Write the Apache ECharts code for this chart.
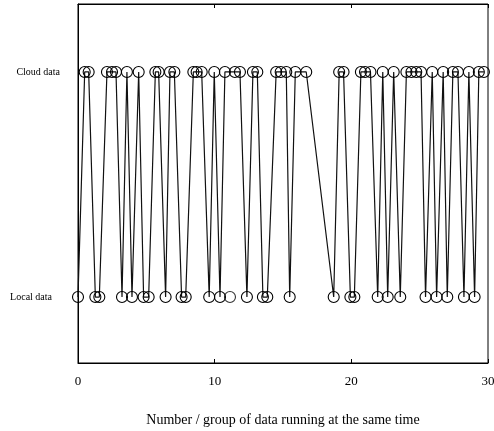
<!DOCTYPE html>
<html>
<head>
<meta charset="utf-8">
<script src="https://cdn.jsdelivr.net/npm/echarts@6/dist/echarts.min.js"></script>
<style>
  html, body { margin: 0; padding: 0; background: #fff; }
  #chart { width: 494px; height: 431px; }
</style>
</head>
<body>
<div id="chart"></div>
<script>
// x positions of the runs that ended up on each side
const cloudX = [0.49, 0.78, 2.12, 2.49, 2.78, 3.58, 4.44, 5.66, 5.9, 6.73, 7.05, 8.44, 8.68, 9.05,
  9.97, 10.75, 11.48, 11.85, 12.8, 13.12, 14.5, 14.83, 15.24, 15.9, 16.7, 19.11, 19.43, 20.7,
  21.0, 21.4, 22.3, 23.1, 24.03, 24.4, 24.75, 25.1, 25.92, 26.72, 27.43, 27.8, 28.6, 29.33, 29.7];
const localX = [0, 1.27, 1.56, 3.22, 3.95, 4.8, 5.17, 6.41, 7.58, 7.88, 9.6, 10.39, 12.36,
  13.53, 13.85, 15.49, 18.71, 19.93, 20.22, 21.93, 22.66, 23.58, 25.43, 26.24, 27.02, 28.24, 29.02];
// point drawn without a connecting line
const looseLocalX = [11.12];

const yLabels = ['Local data', 'Cloud data'];

// one line through all points, in x order
let pts = []
cloudX.forEach(x => pts.push([x, 1]))
localX.forEach(x => pts.push([x, 0]))
pts.sort((a, b) => a[0] - b[0])

const font = 'Liberation Serif, Times New Roman, serif'

const chart = echarts.init(document.getElementById('chart'), null, {renderer: 'canvas'})

chart.setOption({
  animation: false,
  grid: {
    left: 78, right: 6, top: 4, bottom: 68,
    outerBoundsMode: 'none',
    containLabel: false,
    show: true,
    borderColor: '#000',
    borderWidth: 1
  },
  xAxis: [
    {
      type: 'value',
      min: 0, max: 30, interval: 10,
      name: 'Number / group of data running at the same time',
      nameLocation: 'middle',
      nameGap: 50,
      nameTextStyle: {fontFamily: font, fontSize: 14, color: '#000'},
      axisLine: {show: true, onZero: false, lineStyle: {color: '#000'}},
      axisTick: {show: true, inside: true, length: 4, lineStyle: {color: '#000'}},
      axisLabel: {fontFamily: font, fontSize: 13, color: '#000', margin: 12},
      splitLine: {show: false}
    },
    {
      type: 'value',
      position: 'top',
      min: 0, max: 30, interval: 10,
      axisLine: {show: true, onZero: false, lineStyle: {color: '#000'}},
      axisTick: {show: true, inside: true, length: 4, lineStyle: {color: '#000'}},
      axisLabel: {show: false},
      splitLine: {show: false}
    }
  ],
  yAxis: {
    type: 'value',
    min: -0.293, max: 1.302,
    name: 'Network security',
    nameLocation: 'middle',
    nameGap: 44,
    nameTextStyle: {fontFamily: font, fontSize: 14, color: '#000'},
    axisLine: {show: true, onZero: false, lineStyle: {color: '#000'}},
    axisTick: {show: false},
    splitLine: {show: false},
    axisLabel: {
      customValues: [0, 1],
      margin: 18,
      formatter: v => v === 1 ? '{c|' + yLabels[1] + '}' : '{l|' + yLabels[0] + '}',
      rich: {
        c: {fontFamily: font, fontSize: 10, color: '#000'},
        l: {fontFamily: font, fontSize: 10, color: '#000', padding: [0, 8, 0, 0]}
      }
    }
  },
  series: [
    {
      type: 'line',
      data: pts,
      symbol: 'circle',
      symbolSize: 11,
      showAllSymbol: true,
      lineStyle: {color: '#111', width: 1.2},
      itemStyle: {color: 'rgba(0,0,0,0)', borderColor: '#000', borderWidth: 1.1}
    },
    {
      type: 'scatter',
      data: looseLocalX.map(x => [x, 0]),
      symbol: 'circle',
      symbolSize: 11,
      itemStyle: {color: 'rgba(0,0,0,0)', borderColor: '#000', borderWidth: 1.1}
    }
  ]
});
</script>
</body>
</html>
